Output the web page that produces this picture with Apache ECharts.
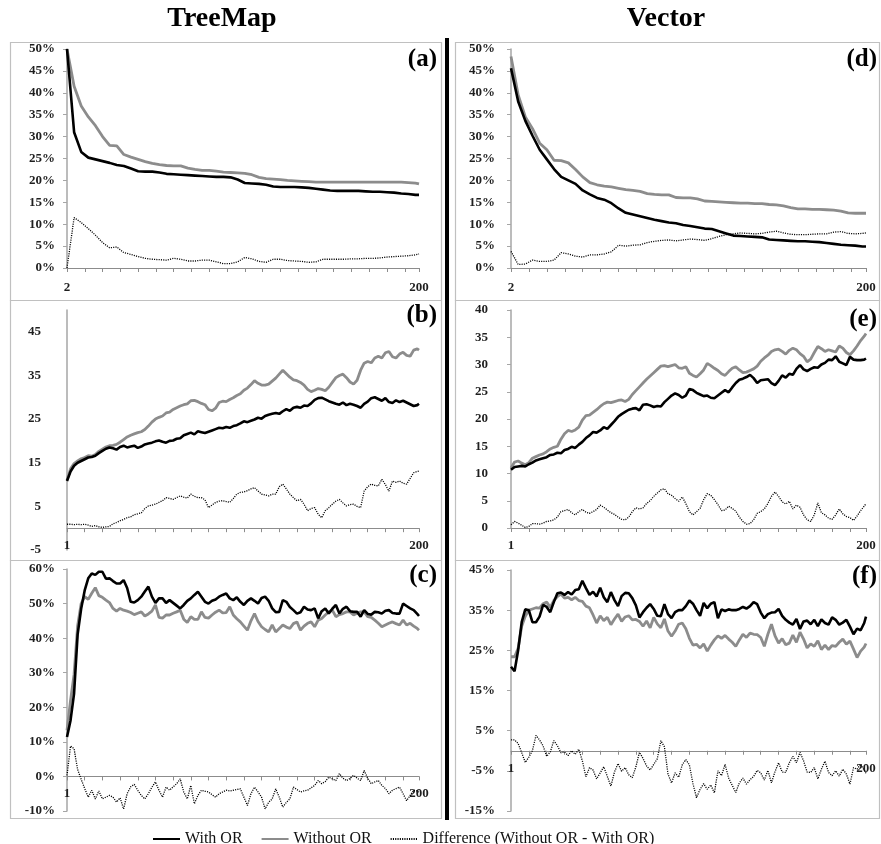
<!DOCTYPE html>
<html>
<head>
<meta charset="utf-8">
<script src="https://cdn.jsdelivr.net/npm/echarts@6/dist/echarts.min.js"></script>
<style>
html,body{margin:0;padding:0;background:#fff;}
#chart{width:881px;height:844px;}
</style>
</head>
<body>
<div id="chart"></div>
<script>
// ---------- sample positions (x) ----------
const X_AD = [2,6,10,14,18,22,26,30,34,38,42,46,50,54,58,62,66,70,74,78,82,86,90,94,98,102,106,110,114,118,122,126,130,134,138,142,146,150,154,158,162,166,170,174,178,182,186,190,194,198,200];
const X_FULL = [1,3,5,7,9,11,13,15,17,19,21,23,25,27,29,31,33,35,37,39,41,43,45,47,49,51,53,55,57,59,61,63,65,67,69,71,73,75,77,79,81,83,85,87,89,91,93,95,97,99,101,103,105,107,109,111,113,115,117,119,121,123,125,127,129,131,133,135,137,139,141,143,145,147,149,151,153,155,157,159,161,163,165,167,169,171,173,175,177,179,181,183,185,187,189,191,193,195,197,199,200];

// ---------- (a) TreeMap, % ----------
const A_WITH = [50,31,26.5,25.2,24.8,24.4,24.0,23.5,23.3,22.7,22.1,22.0,22.0,21.8,21.5,21.4,21.3,21.2,21.1,21.0,20.9,20.8,20.8,20.7,20.2,19.4,19.3,19.2,19.0,18.6,18.5,18.5,18.5,18.4,18.3,18.1,17.9,17.7,17.6,17.6,17.6,17.6,17.5,17.4,17.4,17.3,17.2,17.0,16.9,16.7,16.7];
const A_WITHOUT = [50,41.5,37,34.5,32.5,30,28.0,27.9,25.9,25.3,24.8,24.3,23.9,23.6,23.4,23.3,23.3,22.8,22.5,22.3,22.3,22.1,21.9,21.8,21.7,21.6,21.3,20.7,20.4,20.3,20.2,20.0,19.9,19.8,19.7,19.6,19.6,19.6,19.6,19.6,19.6,19.6,19.6,19.6,19.6,19.6,19.6,19.6,19.5,19.4,19.2];
const A_DIFF = [0,11.5,10.4,9.0,7.5,5.8,4.6,4.8,3.5,3.1,2.6,2.2,2.0,1.9,1.8,2.2,2.0,1.6,1.6,1.8,1.8,1.4,1.0,1.0,1.4,2.4,2.1,1.5,1.3,2.0,2.0,1.7,1.6,1.5,1.3,1.4,2.0,2.0,2.0,2.0,2.1,2.1,2.2,2.2,2.3,2.5,2.6,2.7,2.8,3.0,3.2];

// ---------- (d) Vector, % ----------
const D_WITH = [45.6,38,33.6,30.2,27,24.8,22.6,20.8,20.0,19.2,17.7,16.8,16.0,15.6,14.8,13.6,12.6,12.2,11.8,11.4,11.0,10.7,10.4,10.2,9.8,9.6,9.3,9.0,8.9,8.4,7.9,7.4,7.3,7.2,7.1,7.0,6.5,6.4,6.3,6.2,6.1,6.1,6.0,5.9,5.7,5.5,5.3,5.2,5.1,4.9,4.9];
const D_WITHOUT = [48.3,39.5,34.5,31.8,28.5,27,24.6,24.5,24.0,22.5,20.8,19.5,19.0,18.7,18.5,18.2,17.9,17.7,17.5,17.0,16.8,16.7,16.7,16.1,16.0,16.0,15.8,15.3,15.2,15.1,15.0,14.9,14.8,14.8,14.7,14.7,14.5,14.4,14.2,13.8,13.5,13.5,13.4,13.4,13.3,13.2,13.0,12.6,12.5,12.5,12.5];
const D_DIFF = [3.8,0.8,0.9,1.8,1.5,1.5,1.8,3.5,3.2,2.7,2.5,3.0,3.0,3.2,3.7,5.2,5.0,5.2,5.3,5.8,6.1,6.3,6.4,6.2,6.4,6.6,6.5,6.3,6.7,7.2,7.6,7.8,8.0,7.9,7.8,7.9,8.2,8.4,8.0,7.7,7.6,7.6,7.7,7.8,7.8,8.2,8.3,7.9,7.8,7.9,8.0];

// ---------- (b) TreeMap ----------
const B_WITH = [10.8,13.0,14.3,15.0,15.4,15.8,16.2,16.3,16.6,17.2,17.7,18.2,18.5,18.3,18.0,18.6,18.9,18.5,18.7,18.9,18.4,18.7,19.2,19.4,19.6,19.9,20.1,19.8,19.6,20.0,20.1,20.5,20.6,21.3,21.6,21.9,21.5,22.2,22.0,21.8,22.1,22.4,22.7,23.0,22.9,23.2,23.0,23.4,23.6,24.0,24.5,24.3,24.6,24.9,25.3,25.1,25.7,26.0,26.2,26.4,26.2,26.8,27.3,26.9,27.6,27.8,27.6,28.1,28.0,28.6,29.4,29.8,29.9,29.5,29.1,28.8,28.5,28.3,28.8,28.2,28.5,28.3,28.0,27.6,28.5,29.0,29.8,30.0,29.6,29.2,29.8,28.9,28.7,29.3,28.9,29.2,28.8,28.4,28.0,28.2,28.5];
const B_WITHOUT = [11.0,13.6,14.8,15.4,15.9,16.2,16.6,16.5,16.9,17.6,18.1,18.6,18.9,19.0,19.2,19.7,20.3,20.9,21.3,21.6,21.9,22.1,22.6,23.4,24.3,25.0,25.4,25.7,26.4,26.6,27.2,27.6,28.0,28.3,28.5,29.2,29.3,29.0,28.6,28.3,27.2,26.9,27.5,28.8,29.1,29.0,29.5,29.9,30.4,30.8,31.6,32.1,32.9,33.8,33.2,32.8,32.8,33.0,33.7,34.4,35.3,36.2,35.4,34.6,34.0,33.8,33.4,32.8,31.8,31.3,31.6,32.0,31.8,31.5,32.3,33.4,34.5,35.0,35.3,34.5,33.5,33.0,33.9,36.2,37.8,38.2,37.9,39.0,39.4,39.0,40.2,40.5,39.3,39.0,39.9,40.3,39.6,39.4,40.8,41.1,40.8];
const B_DIFF = [0.9,0.9,0.8,0.9,0.8,0.9,0.7,0.4,0.6,0.3,0.2,0.3,0.4,1.0,1.3,1.7,2.0,2.4,2.6,3.1,3.3,3.5,4.5,5.1,5.3,5.5,5.9,6.3,7.0,6.8,6.6,7.0,7.4,7.1,6.9,7.8,7.3,7.0,7.0,6.5,4.7,5.3,5.9,6.2,6.3,6.1,5.9,6.8,7.8,8.2,8.3,8.6,9.0,9.3,8.5,7.8,7.6,7.4,7.8,7.8,9.5,10.1,9.0,7.8,7.0,6.3,6.6,5.5,4.0,4.5,4.7,3.2,2.4,4.0,4.7,5.5,6.2,6.6,5.8,5.1,5.4,5.5,5.0,4.7,8.5,9.5,10.1,9.8,9.7,11.2,10.0,8.5,10.8,10.5,10.8,10.3,10.1,11.4,12.7,13.0,13.1];

// ---------- (e) Vector ----------
const E_WITH = [10.7,11.2,11.3,11.4,11.3,11.7,12.0,12.4,12.6,12.8,13.0,13.4,13.5,13.8,13.7,14.3,14.5,14.9,14.7,15.3,15.8,16.5,17.0,17.6,17.5,17.9,18.5,18.2,18.9,19.6,20.4,20.9,21.3,21.7,21.9,22.0,21.6,22.6,22.7,22.5,22.2,22.4,22.3,23.1,23.7,24.3,24.7,24.4,23.9,24.3,25.5,25.3,24.8,24.5,24.2,24.3,23.9,23.8,24.3,24.8,25.3,24.9,25.8,26.6,27.2,27.4,27.7,28.1,27.5,26.6,27.1,27.2,27.3,26.6,26.2,27.0,28.0,27.6,28.3,28.1,29.2,29.9,29.1,28.8,29.2,29.5,29.4,30.0,30.3,30.9,30.8,31.5,30.5,30.2,29.9,31.4,30.9,30.8,30.8,30.9,31.1];
const E_WITHOUT = [11.0,12.1,12.3,11.9,11.6,12.0,12.8,13.1,13.4,13.6,14.0,14.5,14.8,15.0,16.3,17.3,17.9,17.7,18.0,18.5,19.8,20.6,20.7,21.2,21.7,22.3,22.8,23.1,23.0,23.2,23.4,23.5,23.2,23.6,24.5,25.2,25.9,26.6,27.3,27.9,28.5,29.1,29.7,29.8,29.6,29.8,30.0,29.4,29.3,29.6,28.4,28.0,27.7,28.3,29.0,30.2,29.8,29.3,28.9,28.3,28.0,28.7,29.3,29.6,29.0,28.5,28.6,28.9,29.2,29.7,30.6,31.2,31.7,32.4,32.7,32.8,32.4,31.9,32.6,33.0,32.7,32.0,31.5,30.5,31.0,32.2,33.3,32.9,32.4,32.7,32.5,32.3,33.4,33.0,32.2,31.8,32.5,33.4,34.4,35.2,35.7];
const E_DIFF = [0.6,1.2,0.9,0.5,0.1,0.3,0.8,0.8,0.7,0.9,1.2,1.3,1.5,2.0,3.0,3.2,3.4,2.8,2.4,3.0,3.4,2.9,2.7,3.0,3.4,4.2,3.8,3.3,2.8,2.5,2.0,1.6,1.5,2.0,3.0,3.7,3.5,3.7,4.5,5.0,5.8,6.4,7.0,7.2,6.3,6.0,5.4,4.9,5.7,4.5,3.0,2.4,3.0,3.6,5.2,6.3,6.0,5.2,4.3,3.2,3.3,4.0,3.6,3.1,2.0,1.2,0.7,0.8,1.5,2.7,3.0,3.5,4.5,5.8,6.6,5.8,4.8,4.4,4.9,3.5,4.2,3.8,2.4,1.5,1.2,2.4,4.6,2.8,2.4,1.8,1.6,2.4,3.5,2.6,2.1,1.9,1.4,2.2,3.2,4.0,4.5];

// ---------- (c) TreeMap, % ----------
const C_WITH = [11.4,16.2,24.0,41.0,48.5,53.8,57.3,58.7,58.3,59.2,59.2,57.2,57.3,56.5,55.8,55.8,56.8,54.5,50.5,50.3,51.0,52.0,53.5,54.9,52.0,50.2,51.5,51.5,50.2,51.0,50.2,49.4,48.6,49.6,50.8,51.5,52.5,53.4,52.0,50.5,50.0,50.8,51.2,52.0,52.5,52.9,51.5,51.0,51.8,50.5,49.6,50.8,51.5,50.8,50.0,51.6,52.0,50.8,48.6,47.5,47.6,51.0,50.5,49.0,48.1,47.1,47.5,49.1,48.3,48.1,48.6,45.7,47.8,48.6,47.1,48.5,49.6,47.1,48.5,49.1,47.8,47.6,47.6,46.2,48.1,47.0,46.8,47.6,47.5,47.1,47.9,48.1,47.3,47.1,47.1,50.0,49.3,48.6,48.1,47.0,46.4];
const C_WITHOUT = [13.3,22.0,29.5,43.5,50.0,52.0,51.2,53.0,54.6,52.3,51.8,51.0,50.3,48.6,47.8,48.6,48.1,47.8,47.4,46.8,47.2,47.6,46.4,47.0,47.8,49.6,46.0,45.8,46.7,46.7,47.2,47.6,48.1,45.5,44.5,46.2,45.4,45.4,47.6,46.0,45.8,46.7,47.5,48.1,47.3,47.4,49.1,46.7,45.6,44.7,43.5,42.3,45.0,47.1,44.8,43.3,42.5,41.8,43.8,41.8,42.8,43.8,43.2,42.8,44.2,44.7,42.3,43.5,44.3,44.7,43.3,45.2,45.7,46.7,47.6,48.1,46.2,46.8,47.1,47.6,47.6,46.7,47.2,47.6,47.6,46.2,46.0,45.2,44.3,43.3,43.8,44.3,44.7,44.2,43.8,45.2,43.8,44.3,43.5,42.8,42.3];
const C_DIFF = [0.3,8.8,8.0,2.0,-0.8,-3.5,-6.0,-4.0,-6.5,-4.2,-6.5,-6.0,-5.5,-6.0,-7.4,-6.2,-9.4,-5.0,-3.0,-2.3,-4.0,-5.5,-6.5,-5.0,-3.1,-1.6,-4.0,-6.0,-3.1,-4.0,-3.0,-2.1,-0.7,-4.5,-6.5,-2.6,-7.9,-5.5,-4.0,-4.3,-4.5,-5.3,-6.0,-5.0,-4.5,-4.0,-4.2,-4.0,-3.8,-3.6,-6.0,-8.4,-5.0,-3.1,-4.5,-6.0,-9.4,-7.5,-6.5,-3.6,-6.0,-8.9,-7.5,-6.5,-3.1,-3.8,-4.5,-4.2,-4.0,-3.3,-2.6,-1.2,-2.1,-1.5,-0.2,-0.7,-1.2,0.8,-0.5,-1.2,-0.6,0.3,-0.5,-1.2,1.7,-0.5,-2.1,-1.6,-1.2,-2.6,-3.5,-5.0,-4.0,-3.5,-3.1,-5.0,-7.0,-5.5,-4.0,-4.2,-4.5];

// ---------- (f) Vector, % ----------
const F_WITH = [20.9,19.8,25.0,32.0,35.2,35.0,32.0,32.0,33.4,36.3,35.8,34.5,37.0,39.2,39.4,38.8,39.5,38.9,40.0,40.2,42.3,40.5,38.8,39.6,38.4,40.6,38.2,37.0,39.5,37.5,36.0,38.5,39.3,39.2,38.0,36.2,33.2,34.5,35.6,36.5,35.3,33.6,33.5,36.5,34.0,33.0,34.5,35.0,35.0,36.0,37.4,36.6,35.0,33.6,36.8,35.5,36.6,37.0,33.0,35.2,34.8,35.2,35.0,35.0,35.3,35.8,35.4,36.0,37.0,36.5,34.4,33.0,34.0,34.4,34.5,35.3,33.6,32.6,31.9,31.4,32.8,30.3,32.2,32.4,31.5,32.6,31.0,32.7,31.8,31.4,33.2,32.6,31.4,31.9,32.6,30.9,29.0,30.4,30.0,31.8,33.4];
const F_WITHOUT = [23.4,23.4,25.5,31.0,33.5,35.0,35.3,35.6,35.5,36.6,37.0,35.7,37.4,38.4,39.0,38.0,38.2,37.6,38.2,37.4,37.2,36.0,35.6,33.8,31.8,33.6,32.4,33.2,31.4,32.8,34.0,32.2,33.3,33.6,32.6,32.7,32.2,31.0,32.3,30.6,33.2,31.6,30.6,32.8,29.8,28.5,29.8,31.5,31.8,30.4,28.0,26.3,26.5,25.6,26.6,24.8,26.3,27.6,28.6,28.0,28.7,27.8,27.0,26.0,27.6,29.0,28.2,29.3,29.0,28.9,28.2,26.0,29.0,31.5,28.6,26.8,27.9,26.4,26.8,28.8,27.0,29.5,27.8,25.6,26.6,26.0,27.4,25.2,26.3,25.2,26.2,26.0,27.0,27.8,26.5,27.3,25.3,23.2,24.8,25.8,26.7];
const F_DIFF = [2.7,2.7,1.8,-0.5,-2.9,-1.6,0.0,3.8,2.7,1.2,-1.4,-0.3,2.5,1.3,-0.5,-0.3,-1.2,0.0,-0.9,0.4,-2.5,-6.5,-4.2,-4.8,-7.0,-5.5,-4.0,-6.4,-8.8,-5.3,-3.2,-5.1,-4.2,-6.0,-6.7,-4.0,-0.4,-1.9,-3.8,-4.8,-3.4,-2.0,2.5,1.0,-5.8,-8.0,-5.5,-6.6,-3.5,-2.2,-3.5,-8.2,-11.7,-9.6,-8.2,-9.6,-8.5,-10.5,-5.0,-6.2,-3.4,-6.8,-8.6,-10.4,-8.0,-6.8,-8.3,-7.2,-6.4,-4.9,-5.5,-7.3,-4.9,-8.0,-5.2,-3.0,-5.3,-5.4,-3.0,-1.4,-3.0,-0.4,-2.5,-5.3,-5.4,-4.2,-7.0,-4.6,-2.6,-5.4,-6.2,-5.0,-6.3,-4.6,-5.8,-8.3,-4.2,-4.6,-3.3,-4.9,-5.6];

const NAMES = ['With OR', 'Without OR', 'Difference (Without OR - With OR)'];
const TITLES = ['TreeMap', 'Vector'];
const PANEL_LABELS = ['(a)', '(b)', '(c)', '(d)', '(e)', '(f)'];

// ---------- layout ----------
const FONT = '"Liberation Serif", "DejaVu Serif", serif';
const PANELS = [
  { key:'a', xs:X_AD,   w:A_WITH, wo:A_WITHOUT, d:A_DIFF, grid:{left:67, top:49, width:352, height:219}, yMin:0,   yMax:50, yInt:5,  pct:true,  m:12, xMin:2 },
  { key:'b', xs:X_FULL, w:B_WITH, wo:B_WITHOUT, d:B_DIFF, grid:{left:67, top:310, width:352, height:240}, yMin:-5, yMax:50, yInt:10, pct:false, m:26, xMin:1 },
  { key:'c', xs:X_FULL, w:C_WITH, wo:C_WITHOUT, d:C_DIFF, grid:{left:67, top:569, width:352, height:242}, yMin:-10, yMax:60, yInt:10, pct:true, m:12, xMin:1 },
  { key:'d', xs:X_AD,   w:D_WITH, wo:D_WITHOUT, d:D_DIFF, grid:{left:511, top:49, width:355, height:219}, yMin:0,   yMax:50, yInt:5,  pct:true,  m:16, xMin:2 },
  { key:'e', xs:X_FULL, w:E_WITH, wo:E_WITHOUT, d:E_DIFF, grid:{left:511, top:310, width:355, height:218}, yMin:0,  yMax:40, yInt:5,  pct:false, m:23, xMin:1 },
  { key:'f', xs:X_FULL, w:F_WITH, wo:F_WITHOUT, d:F_DIFF, grid:{left:511, top:570, width:355, height:241}, yMin:-15, yMax:45, yInt:10, pct:true, m:16, xMin:1 }
];

const LABEL_STYLE = { fontFamily: FONT, fontWeight: 'bold', fontSize: 13, color: '#1f1f1f' };

const grids = [], xAxes = [], yAxes = [], series = [];
PANELS.forEach((p, i) => {
  grids.push(Object.assign({ containLabel: false }, p.grid));
  const xMin = p.xMin;
  // move the x axis (line, ticks and labels together) up to the value 0
  const zeroOffset = -p.grid.height * (0 - p.yMin) / (p.yMax - p.yMin);
  xAxes.push({
    gridIndex: i, type: 'value', min: xMin, max: 200, interval: 10,
    position: 'bottom', offset: zeroOffset,
    axisLine: { onZero: false, lineStyle: { color: '#8c8c8c', width: 1 } },
    axisTick: { show: true, length: 4, inside: false, lineStyle: { color: '#8c8c8c', width: 1 } },
    splitLine: { show: false },
    axisLabel: Object.assign({
      margin: (p.key === 'a' || p.key === 'd') ? 13 : 11, showMinLabel: true, showMaxLabel: true,
      formatter: v => (v === xMin || v === 200) ? String(v) : ''
    }, LABEL_STYLE)
  });
  const yMax = p.yMax;
  yAxes.push({
    gridIndex: i, type: 'value', min: p.yMin, max: p.yMax, interval: p.yInt,
    axisLine: { show: true, onZero: false, lineStyle: { color: '#a6a6a6', width: 1.5 } },
    axisTick: { show: p.key !== 'b', length: 4, lineStyle: { color: '#a6a6a6', width: 1 } },
    splitLine: { show: false },
    axisLabel: Object.assign({
      margin: p.m,
      showMaxLabel: p.key !== 'b',
      formatter: v => {
        if (p.key === 'b' && v === yMax) return '';
        return p.pct ? v + '%' : String(v);
      }
    }, LABEL_STYLE)
  });
  const pairs = ys => p.xs.map((x, k) => [x, ys[k]]);
  series.push({
    type: 'line', name: NAMES[2], xAxisIndex: i, yAxisIndex: i, data: pairs(p.d),
    symbol: 'none', color: '#000', lineStyle: { color: '#000', width: 1.3, type: [1.1, 1.2] }, z: 2
  });
  series.push({
    type: 'line', name: NAMES[1], xAxisIndex: i, yAxisIndex: i, data: pairs(p.wo),
    symbol: 'none', color: '#8c8c8c', lineStyle: { color: '#8c8c8c', width: 2.8 }, z: 3
  });
  series.push({
    type: 'line', name: NAMES[0], xAxisIndex: i, yAxisIndex: i, data: pairs(p.w),
    symbol: 'none', color: '#000', lineStyle: { color: '#000', width: 2.6 }, z: 4
  });
});

// ---------- decorations ----------
const BOX = { stroke: '#c0c0c0', fill: 'none', lineWidth: 1.2 };
const boxes = [
  [10, 42, 431, 258], [10, 300, 431, 260], [10, 560, 431, 258],
  [455, 42, 424, 258], [455, 300, 424, 260], [455, 560, 424, 258]
];
const graphics = boxes.map(b => ({ type: 'rect', silent: true, shape: { x: b[0] + 0.5, y: b[1] + 0.5, width: b[2], height: b[3] }, style: BOX, z: 0 }));
graphics.push({ type: 'rect', silent: true, shape: { x: 445, y: 38, width: 4, height: 782 }, style: { fill: '#000' } });
const titlePos = [[222, 19], [666, 19]];
TITLES.forEach((t, i) => graphics.push({
  type: 'text', x: titlePos[i][0], y: titlePos[i][1],
  style: { text: t, font: 'bold 28px ' + FONT, fill: '#000', textAlign: 'center', textVerticalAlign: 'middle', align: 'center', verticalAlign: 'middle' }
}));
const labelPos = [[437, 60], [437, 316], [437, 576], [877, 60], [877, 320], [877, 577]];
PANEL_LABELS.forEach((t, i) => graphics.push({
  type: 'text', x: labelPos[i][0], y: labelPos[i][1],
  style: { text: t, font: 'bold 25px ' + FONT, fill: '#000', textAlign: 'right', textVerticalAlign: 'middle', align: 'right', verticalAlign: 'middle' }
}));

const chart = echarts.init(document.getElementById('chart'), null, { renderer: 'canvas' });
chart.setOption({
  animation: false,
  backgroundColor: '#fff',
  grid: grids,
  xAxis: xAxes,
  yAxis: yAxes,
  legend: {
    data: NAMES, left: 152, top: 831, padding: 0, itemWidth: 27, itemHeight: 10, itemGap: 18,
    itemStyle: { opacity: 0 },
    textStyle: { fontFamily: FONT, fontSize: 16, color: '#111' }
  },
  graphic: graphics,
  series: series
});
</script>
</body>
</html>
